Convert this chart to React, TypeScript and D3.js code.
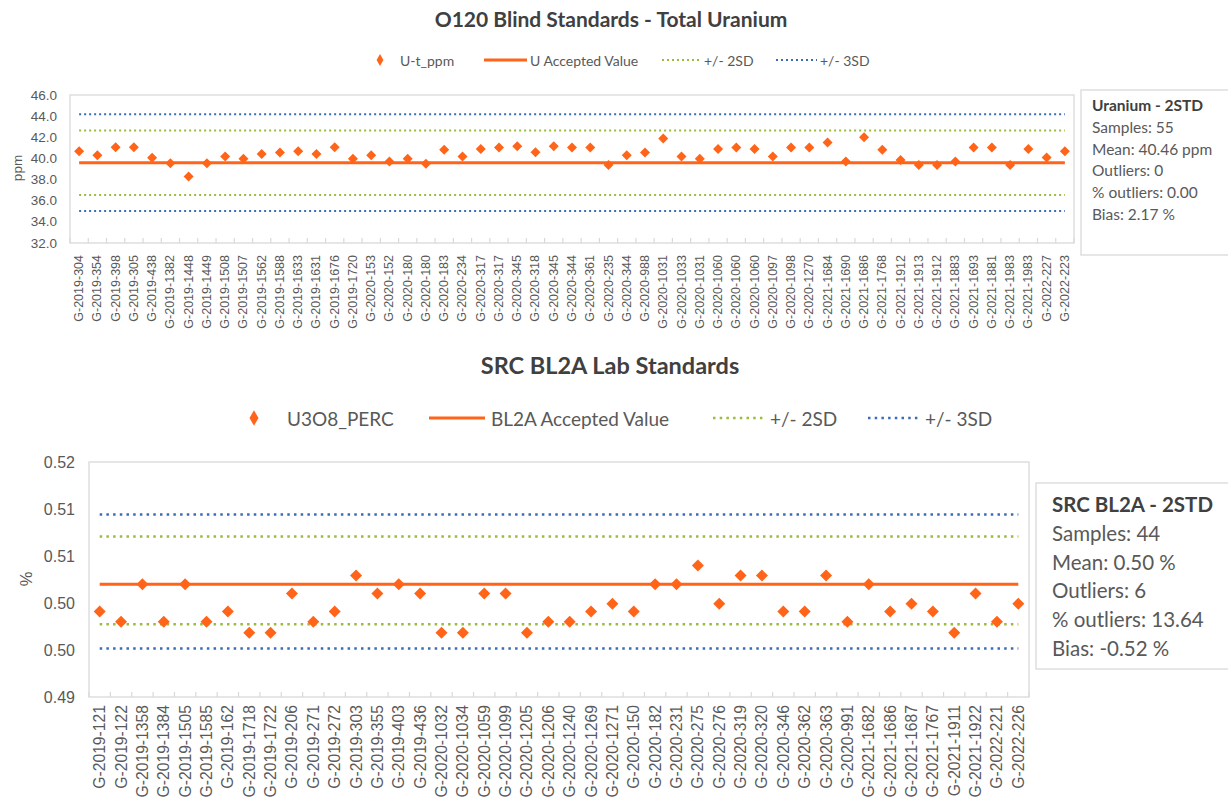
import React from "react";
import * as d3 from "d3";

// ---- O120 blind standards (ppm) ----
const uLabels = [
  "G-2019-304", "G-2019-354", "G-2019-398", "G-2019-305", "G-2019-438", "G-2019-1382", "G-2019-1448",
  "G-2019-1449", "G-2019-1508", "G-2019-1507", "G-2019-1562", "G-2019-1588", "G-2019-1633", "G-2019-1631",
  "G-2019-1676", "G-2019-1720", "G-2020-153", "G-2020-152", "G-2020-180", "G-2020-180", "G-2020-183",
  "G-2020-234", "G-2020-317", "G-2020-317", "G-2020-345", "G-2020-318", "G-2020-345", "G-2020-344",
  "G-2020-361", "G-2020-235", "G-2020-344", "G-2020-988", "G-2020-1031", "G-2020-1033", "G-2020-1031",
  "G-2020-1060", "G-2020-1060", "G-2020-1060", "G-2020-1097", "G-2020-1098", "G-2020-1270", "G-2021-1684",
  "G-2021-1690", "G-2021-1686", "G-2021-1768", "G-2021-1912", "G-2021-1913", "G-2021-1912", "G-2021-1883",
  "G-2021-1693", "G-2021-1881", "G-2021-1983", "G-2021-1983", "G-2022-227", "G-2022-223",
];
const uValues = [
  40.69, 40.31, 41.06, 41.06, 40.06, 39.55, 38.3, 39.55, 40.18, 39.96,
  40.43, 40.56, 40.69, 40.43, 41.06, 39.96, 40.31, 39.71, 39.96, 39.49,
  40.81, 40.18, 40.9, 41.03, 41.16, 40.59, 41.16, 41.03, 41.03, 39.37,
  40.31, 40.56, 41.88, 40.18, 39.96, 40.9, 41.03, 40.9, 40.18, 41.03,
  41.03, 41.5, 39.71, 42.0, 40.81, 39.84, 39.37, 39.37, 39.71, 41.03,
  41.03, 39.37, 40.9, 40.09, 40.69,
];
const uAccepted = 39.6;
const uSD2 = [36.55, 42.65];
const uSD3 = [35.03, 44.17];
const uTicks = [32, 34, 36, 38, 40, 42, 44, 46];
const uLegend = ["U-t_ppm", "U Accepted Value", "+/- 2SD", "+/- 3SD"];
const uStats = ["Uranium - 2STD", "Samples: 55", "Mean: 40.46 ppm", "Outliers: 0", "% outliers: 0.00", "Bias: 2.17 %"];

// ---- SRC BL2A lab standards (%) ----
const bLabels = [
  "G-2019-121", "G-2019-122", "G-2019-1358", "G-2019-1384", "G-2019-1505", "G-2019-1585", "G-2019-162",
  "G-2019-1718", "G-2019-1722", "G-2019-206", "G-2019-271", "G-2019-272", "G-2019-303", "G-2019-355",
  "G-2019-403", "G-2019-436", "G-2020-1032", "G-2020-1034", "G-2020-1059", "G-2020-1099", "G-2020-1205",
  "G-2020-1206", "G-2020-1240", "G-2020-1269", "G-2020-1271", "G-2020-150", "G-2020-182", "G-2020-231",
  "G-2020-275", "G-2020-276", "G-2020-319", "G-2020-320", "G-2020-346", "G-2020-362", "G-2020-363",
  "G-2020-991", "G-2021-1682", "G-2021-1686", "G-2021-1687", "G-2021-1767", "G-2021-1911", "G-2021-1922",
  "G-2022-221", "G-2022-226",
];
const bValues = [
  0.5009, 0.4996, 0.5044, 0.4996, 0.5044, 0.4996, 0.5009, 0.4982, 0.4982, 0.5032,
  0.4996, 0.5009, 0.5055, 0.5032, 0.5044, 0.5032, 0.4982, 0.4982, 0.5032, 0.5032,
  0.4982, 0.4996, 0.4996, 0.5009, 0.5019, 0.5009, 0.5044, 0.5044, 0.5068, 0.5019,
  0.5055, 0.5055, 0.5009, 0.5009, 0.5055, 0.4996, 0.5044, 0.5009, 0.5019, 0.5009,
  0.4982, 0.5032, 0.4996, 0.5019,
];
const bAccepted = 0.5044;
const bSD2 = [0.4993, 0.5105];
const bSD3 = [0.4962, 0.5133];
const bTicks = [0.49, 0.496, 0.502, 0.508, 0.514, 0.52];
const bLegend = ["U3O8_PERC", "BL2A Accepted Value", "+/- 2SD", "+/- 3SD"];
const bStats = ["SRC BL2A - 2STD", "Samples: 44", "Mean: 0.50 %", "Outliers: 6", "% outliers: 13.64", "Bias: -0.52 %"];

const ORANGE = "#FF6418";
const GREEN = "#9BBB3B";
const BLUE = "#3A6DB5";
const FRAME = "#D9D9D9";
const AXIS_TXT = "#595959";
const DARK = "#404040";
const UI = "Lato, 'Open Sans', sans-serif";
const AX = "'Liberation Sans', Arial, sans-serif";

function ControlChart(p: any) {
  const { labels, values, accepted, sd2, sd3, ticks, fmt, legend, stats, L } = p;
  const x = d3.scaleBand<number>().domain(d3.range(labels.length)).range([L.left, L.right]);
  const y = d3.scaleLinear().domain(d3.extent(ticks) as [number, number]).range([L.bottom, L.top]);
  const cx = (i: number) => (x(i) as number) + x.bandwidth() / 2;
  const x0 = cx(0), x1 = cx(labels.length - 1);
  const hline = (v: number) => d3.line()([[x0, y(v)], [x1, y(v)]]) as string;
  const diamond = d3.symbol(d3.symbolSquare, L.markerSize)() as string;
  const legendDiamond = d3.symbol(d3.symbolDiamond, L.legendMarker)() as string;
  const dots = L.dash;

  const limits = [
    ...sd3.map((v: number) => ({ v, c: BLUE })),
    ...sd2.map((v: number) => ({ v, c: GREEN })),
  ];

  return (
    <g>
      <text x={L.titleX} y={L.titleY} textAnchor="middle" fontFamily={UI} fontWeight={700}
        fontSize={L.titleSize} fill={DARK}>{L.title}</text>

      {/* legend */}
      <g fontFamily={UI} fontSize={L.legendSize} fill={AXIS_TXT}>
        <path d={legendDiamond} transform={`translate(${L.lx[0]},${L.legendY})`} fill={ORANGE} />
        <text x={L.lt[0]} y={L.legendY} dominantBaseline="central">{legend[0]}</text>
        <line x1={L.lx[1][0]} x2={L.lx[1][1]} y1={L.legendY} y2={L.legendY} stroke={ORANGE} strokeWidth={L.accW} />
        <text x={L.lt[1]} y={L.legendY} dominantBaseline="central">{legend[1]}</text>
        <line x1={L.lx[2][0]} x2={L.lx[2][1]} y1={L.legendY} y2={L.legendY} stroke={GREEN}
          strokeWidth={L.dotW} strokeDasharray={dots} />
        <text x={L.lt[2]} y={L.legendY} dominantBaseline="central">{legend[2]}</text>
        <line x1={L.lx[3][0]} x2={L.lx[3][1]} y1={L.legendY} y2={L.legendY} stroke={BLUE}
          strokeWidth={L.dotW} strokeDasharray={dots} />
        <text x={L.lt[3]} y={L.legendY} dominantBaseline="central">{legend[3]}</text>
      </g>

      {/* plot frame */}
      <rect x={L.left} y={L.top} width={L.right - L.left} height={L.bottom - L.top}
        fill="#fff" stroke={FRAME} strokeWidth={1.3} />
      {d3.range(labels.length + 1).map((i) => {
        const xx = i < labels.length ? (x(i) as number) : L.right;
        return <line key={i} x1={xx} x2={xx} y1={L.bottom} y2={L.bottom - 5} stroke={FRAME} strokeWidth={1.2} />;
      })}

      {/* y axis */}
      <g fontFamily={AX} fontSize={L.yTickSize} fill={AXIS_TXT} textAnchor="end">
        {ticks.map((t: number) => (
          <text key={t} x={L.yTickX} y={y(t)} dominantBaseline="central">{fmt(t)}</text>
        ))}
      </g>
      <text transform={`translate(${L.yLabelX},${L.yLabelY}) rotate(-90)`} textAnchor="middle"
        dominantBaseline="central" fontFamily={AX} fontSize={L.yLabelSize} fill={AXIS_TXT}>{L.yLabel}</text>

      {/* x labels */}
      <g fontFamily={AX} fontSize={L.xTickSize} fill={AXIS_TXT} textAnchor="end">
        {labels.map((s: string, i: number) => (
          <text key={i} transform={`translate(${cx(i)},${L.bottom + L.xTickGap}) rotate(-90)`}
            dominantBaseline="central">{s}</text>
        ))}
      </g>

      {/* limit lines */}
      {limits.map((d: any, i: number) => (
        <path key={i} d={hline(d.v)} stroke={d.c} strokeWidth={L.dotW} strokeDasharray={dots} fill="none" />
      ))}
      <path d={hline(accepted)} stroke={ORANGE} strokeWidth={L.accW} fill="none" />

      {/* samples */}
      {values.map((v: number, i: number) => (
        <path key={i} d={diamond} transform={`translate(${cx(i)},${y(v)}) rotate(45)`} fill={ORANGE} />
      ))}

      {/* stats box */}
      <rect x={L.box[0]} y={L.box[1]} width={L.box[2]} height={L.box[3]} fill="#fff" stroke={FRAME} strokeWidth={1.3} />
      <g fontFamily={UI} fontSize={L.statSize} fill={DARK}>
        {stats.map((s: string, i: number) => (
          <text key={i} x={L.statX} y={L.statY + i * L.statStep} fontWeight={i === 0 ? 700 : 400}
            fill={i === 0 ? DARK : AXIS_TXT}>{s}</text>
        ))}
      </g>
    </g>
  );
}

const topLayout = {
  title: "O120 Blind Standards - Total Uranium", titleX: 611, titleY: 27, titleSize: 21,
  legendY: 60, legendSize: 14, legendMarker: 40,
  lx: [380, [484, 527], [662, 701], [776, 817]], lt: [400, 530, 704, 820],
  left: 70, right: 1074, top: 95, bottom: 243,
  yTickX: 57, yTickSize: 13.5, yLabel: "ppm", yLabelX: 17, yLabelY: 168, yLabelSize: 13.5,
  xTickSize: 12.5, xTickGap: 12,
  markerSize: 50, accW: 3, dotW: 2, dash: "2 3",
  box: [1081, 90, 160, 165], statX: 1092, statY: 111, statStep: 21.8, statSize: 15.5,
};

const bottomLayout = {
  title: "SRC BL2A Lab Standards", titleX: 610, titleY: 374, titleSize: 23.5,
  legendY: 418, legendSize: 19, legendMarker: 70,
  lx: [254, [429, 485], [713, 765], [868, 919]], lt: [287, 491, 770, 925],
  left: 89, right: 1029, top: 462, bottom: 697,
  yTickX: 75, yTickSize: 16, yLabel: "%", yLabelX: 26, yLabelY: 579, yLabelSize: 16.5,
  xTickSize: 15.7, xTickGap: 8,
  markerSize: 72, accW: 3, dotW: 2.5, dash: "2.5 4.2",
  box: [1036, 483, 200, 186], statX: 1052, statY: 512, statStep: 28.8, statSize: 20.5,
};

export default function App() {
  return (
    <div style={{ position: "absolute", left: 0, top: 0 }}>
      <svg width={1228} height={799} style={{ display: "block", background: "#fff" }}>
        <ControlChart labels={uLabels} values={uValues} accepted={uAccepted} sd2={uSD2} sd3={uSD3}
          ticks={uTicks} fmt={d3.format(".1f")} legend={uLegend} stats={uStats} L={topLayout} />
        <ControlChart labels={bLabels} values={bValues} accepted={bAccepted} sd2={bSD2} sd3={bSD3}
          ticks={bTicks} fmt={d3.format(".2f")} legend={bLegend} stats={bStats} L={bottomLayout} />
      </svg>
    </div>
  );
}
